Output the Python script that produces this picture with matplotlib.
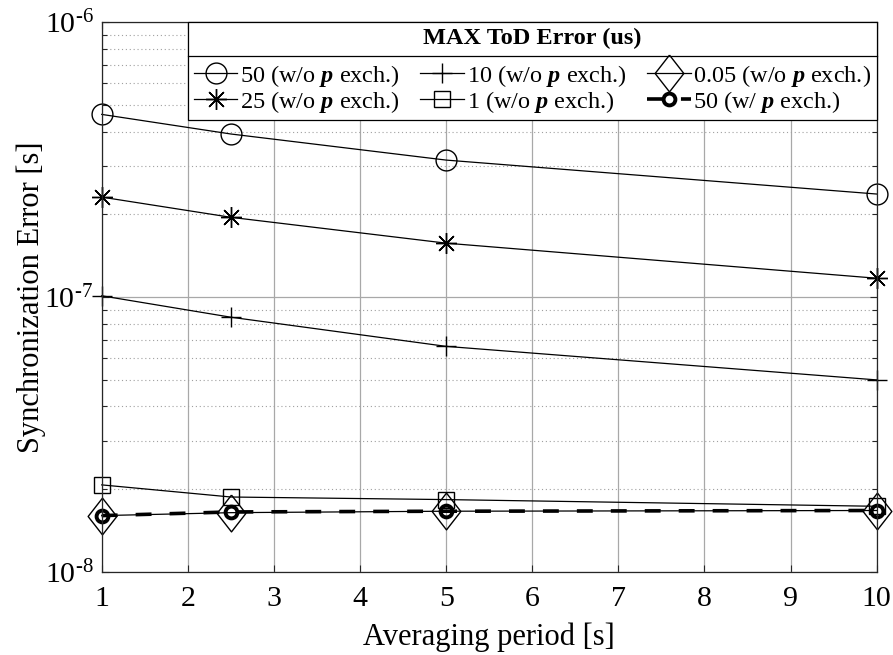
import matplotlib
matplotlib.use("Agg")
import matplotlib.pyplot as plt
from matplotlib.lines import Line2D
from matplotlib.ticker import LogLocator, NullFormatter, FixedLocator, FuncFormatter
import math

plt.rcParams['font.family'] = ['Liberation Serif', 'TeX Gyre Termes', 'DejaVu Serif']
plt.rcParams['mathtext.fontset'] = 'custom'
plt.rcParams['mathtext.rm'] = 'Liberation Serif'
plt.rcParams['mathtext.it'] = 'Liberation Serif:italic'
plt.rcParams['mathtext.bf'] = 'Liberation Serif:bold'
plt.rcParams['mathtext.bfit'] = 'Liberation Serif:bold:italic'

# ---- data ----
periods = [1, 2.5, 5, 10]
err_50 = [4.62e-7, 3.92e-7, 3.15e-7, 2.37e-7]
err_25 = [2.31e-7, 1.95e-7, 1.57e-7, 1.17e-7]
err_10 = [1.01e-7, 8.44e-8, 6.61e-8, 4.99e-8]
err_1 = [2.07e-8, 1.87e-8, 1.83e-8, 1.73e-8]
err_005 = [1.60e-8, 1.64e-8, 1.66e-8, 1.67e-8]
err_50_p = [1.60e-8, 1.65e-8, 1.66e-8, 1.67e-8]

labels = ["50 (w/o $\\mathbfit{p}$ exch.)",
          "25 (w/o $\\mathbfit{p}$ exch.)",
          "10 (w/o $\\mathbfit{p}$ exch.)",
          "1 (w/o $\\mathbfit{p}$ exch.)",
          "0.05 (w/o $\\mathbfit{p}$ exch.)",
          "50 (w/ $\\mathbfit{p}$ exch.)"]
legend_title = "MAX ToD Error (us)"
xlabel = "Averaging period [s]"
ylabel = "Synchronization Error [s]"
xticks = [1, 2, 3, 4, 5, 6, 7, 8, 9, 10]

fig = plt.figure(figsize=(8.93, 6.55), dpi=100)
ax = fig.add_axes([0.1139, 0.1272, 0.9817 - 0.1139, 0.966 - 0.1272])

lw = 0.9
diamond = [(0, 1), (0.78, 0), (0, -1), (-0.78, 0), (0, 1)]
common = dict(color='k', clip_on=False)
h1, = ax.plot(periods, err_50, lw=lw, marker='o', ms=15, mfc='none', mew=1.0, **common)
h2, = ax.plot(periods, err_25, lw=lw, marker=(8, 2, 0), ms=15, mfc='none', mew=1.0, **common)
h3, = ax.plot(periods, err_10, lw=lw, marker='+', ms=15, mew=1.0, **common)
h4, = ax.plot(periods, err_1, lw=lw, marker='s', ms=12, mfc='none', mew=1.0, **common)
h5, = ax.plot(periods, err_005, lw=lw, marker=diamond, ms=26.5, mfc='none', mew=1.0, **common)
h6, = ax.plot(periods, err_50_p, lw=2.6, ls=(0, (4.4, 5.0)), marker='o', ms=8.5,
              mfc='none', mew=2.8, **common)

ax.set_yscale('log')
ax.set_ylim(1e-8, 1e-6)
ax.set_xlim(1, 10)
ax.xaxis.set_major_locator(FixedLocator(xticks))
ax.yaxis.set_major_locator(LogLocator(base=10, numticks=10))
ax.yaxis.set_minor_locator(LogLocator(base=10, subs=range(2, 10), numticks=20))
ax.yaxis.set_minor_formatter(NullFormatter())


def fmt_log(v, pos):
    e = int(round(math.log10(v)))
    if e < 0:
        return "$10^{\\text{-%d}}$" % (-e)
    return "$10^{%d}$" % e


ax.yaxis.set_major_formatter(FuncFormatter(fmt_log))

ax.grid(True, which='major', color='#a8a8a8', lw=0.9, ls='-')
ax.grid(True, which='minor', axis='y', color='#a0a0a0', lw=0.8, ls=(0, (1, 2.5)))
ax.set_axisbelow(True)

ax.tick_params(which='both', direction='in', top=True, right=True, colors='#262626',
               labelcolor='k')
ax.tick_params(which='major', length=5, width=0.8, labelsize=21.5)
ax.tick_params(which='minor', length=3.5, width=0.8)
ax.tick_params(axis='x', pad=10)
ax.tick_params(axis='y', pad=6)
for s in ax.spines.values():
    s.set_color('#262626')
    s.set_linewidth(0.9)

ax.set_xlabel(xlabel, fontsize=22, labelpad=8)
ax.set_ylabel(ylabel, fontsize=22)
ax.yaxis.set_label_coords((46 - 101.7) / 775.0, 0.5)

handles = [h1, h2, h3, h4, h5, h6]
leg = ax.legend(handles, labels, loc='upper right', ncol=3, fontsize=17.5,
                title=legend_title, title_fontproperties={'weight': 'bold', 'size': 17.5},
                frameon=True, fancybox=False, framealpha=1, edgecolor='k',
                borderaxespad=0, borderpad=0.22, handlelength=1.8, handletextpad=0.1,
                columnspacing=0.85, labelspacing=0.0)
leg.get_frame().set_linewidth(0.9)
leg._legend_box.sep = 10

fig.canvas.draw()
r = fig.canvas.get_renderer()
lb = leg.get_window_extent(r)
tb = leg._legend_title_box.get_window_extent(r)
hb = leg._legend_handle_box.get_window_extent(r)
ysep = 0.5 * (tb.y0 + hb.y1)
inv = fig.transFigure.inverted()
(x0, y0) = inv.transform((lb.x0, ysep))
(x1, _) = inv.transform((lb.x1, ysep))
fig.add_artist(Line2D([x0, x1], [y0, y0], transform=fig.transFigure, color='k', lw=0.9,
                      zorder=10))

fig.savefig("out.png", dpi=100)
